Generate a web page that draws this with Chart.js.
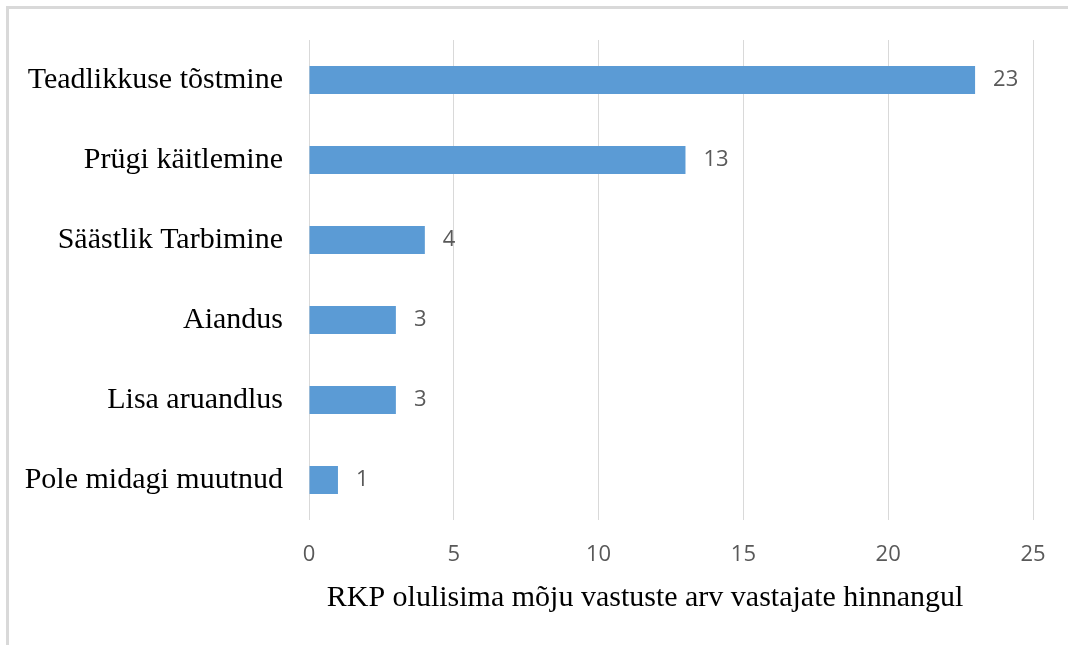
<!DOCTYPE html>
<html>
<head>
<meta charset="utf-8">
<script src="https://cdn.jsdelivr.net/npm/chart.js@4.4.1/dist/chart.umd.min.js"></script>
<style>
  html, body { margin: 0; padding: 0; background: #ffffff; }
  #wrap { width: 1068px; height: 645px; position: relative; }
</style>
</head>
<body>
<div id="wrap"><canvas id="c" width="1068" height="645"></canvas></div>
<script>
const categories = ["Teadlikkuse tõstmine", "Prügi käitlemine", "Säästlik Tarbimine", "Aiandus", "Lisa aruandlus", "Pole midagi muutnud"];
const values = [23, 13, 4, 3, 3, 1];
const xTicks = [0, 5, 10, 15, 20, 25];
const axisTitle = "RKP olulisima mõju vastuste arv vastajate hinnangul";

const serif = "'Liberation Serif', 'Times New Roman', serif";
const sans = "'Open Sans', 'Lato', sans-serif";

const frame = {
  id: 'frame',
  beforeDraw(chart) {
    const ctx = chart.ctx;
    ctx.save();
    ctx.fillStyle = '#ffffff';
    ctx.fillRect(0, 0, chart.width, chart.height);
    ctx.strokeStyle = '#d9d9d9';
    ctx.lineWidth = 3;
    ctx.beginPath();
    ctx.moveTo(7.5, chart.height);
    ctx.lineTo(7.5, 7.5);
    ctx.lineTo(chart.width, 7.5);
    ctx.stroke();
    ctx.restore();
  }
};

const labelsPlugin = {
  id: 'valueLabels',
  afterDatasetsDraw(chart) {
    const ctx = chart.ctx;
    const meta = chart.getDatasetMeta(0);
    ctx.save();
    ctx.font = "22px " + sans;
    ctx.fillStyle = '#595959';
    ctx.textAlign = 'left';
    ctx.textBaseline = 'middle';
    meta.data.forEach((bar, i) => {
      ctx.fillText(String(values[i]), bar.x + 18, bar.y);
    });
    ctx.restore();
  }
};

const titlePlugin = {
  id: 'axisTitle',
  afterDraw(chart) {
    const ctx = chart.ctx;
    ctx.save();
    ctx.font = "30px " + serif;
    ctx.fillStyle = '#000000';
    ctx.textAlign = 'center';
    ctx.textBaseline = 'alphabetic';
    ctx.fillText(axisTitle, 645, 606);
    ctx.restore();
  }
};

new Chart(document.getElementById('c'), {
  type: 'bar',
  data: {
    labels: categories,
    datasets: [{
      data: values,
      backgroundColor: '#5b9bd5',
      borderWidth: 0,
      barPercentage: 0.7,
      categoryPercentage: 0.5
    }]
  },
  options: {
    indexAxis: 'y',
    responsive: false,
    animation: false,
    devicePixelRatio: 1,
    layout: { padding: { top: 40, right: 35, left: 0, bottom: 0 } },
    plugins: { legend: { display: false }, tooltip: { enabled: false } },
    scales: {
      x: {
        min: 0, max: 25,
        afterBuildTicks(scale) { scale.ticks = xTicks.map(v => ({ value: v })); },
        afterFit(scale) { scale.height = 125; },
        grid: { color: '#d9d9d9', lineWidth: 1, drawTicks: false },
        border: { display: false },
        ticks: { color: '#595959', font: { family: sans, size: 22 }, padding: 22 }
      },
      y: {
        afterFit(scale) { scale.width = 309; },
        grid: { display: false },
        border: { display: false },
        ticks: { color: '#000000', font: { family: serif, size: 30 }, padding: 18 }
      }
    }
  },
  plugins: [frame, labelsPlugin, titlePlugin]
});
</script>
</body>
</html>
